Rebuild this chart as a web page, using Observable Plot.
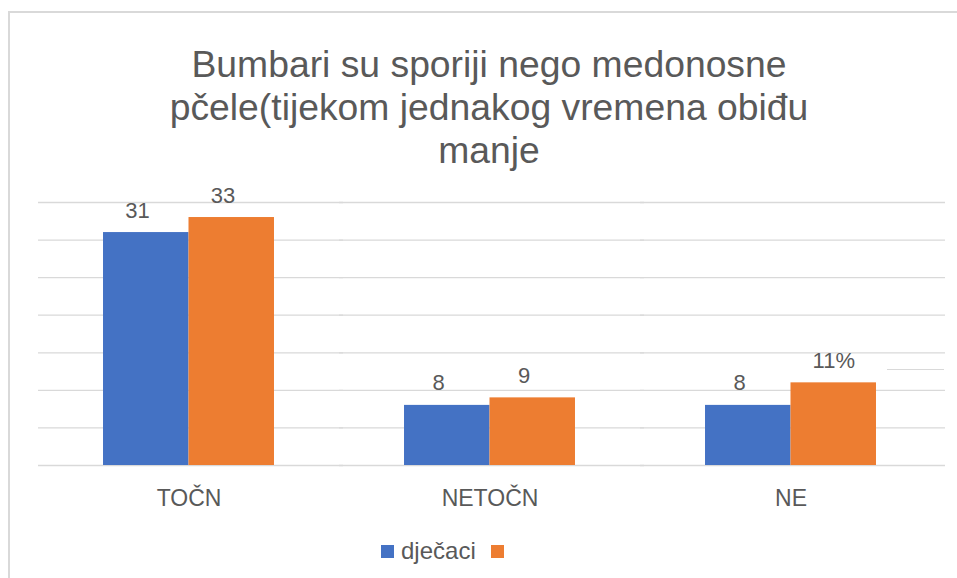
<!DOCTYPE html>
<html><head><meta charset="utf-8">
<script src="https://cdn.jsdelivr.net/npm/d3@7"></script>
<script src="https://cdn.jsdelivr.net/npm/@observablehq/plot@0.6"></script>
<style>
html,body{margin:0;padding:0;background:#fff;}
body{width:957px;height:578px;overflow:hidden;position:relative;font-family:"Liberation Sans",Arial,sans-serif;}
#frame{position:absolute;left:8px;top:11px;width:1000px;height:600px;border-left:2px solid #d9d9d9;border-top:2px solid #d9d9d9;}
#title{position:absolute;left:10px;width:958px;top:43px;text-align:center;font-size:37.3px;line-height:43px;color:#595959;}
#chart{position:absolute;left:0;top:180px;}
#legend{position:absolute;left:381px;top:537px;display:flex;align-items:center;font-size:24px;color:#595959;}
.sw{width:13px;height:13px;display:inline-block;}
#stray{position:absolute;left:887px;top:369px;width:57px;height:0;border-top:1.5px solid #d9d9d9;}
</style></head><body>
<div id="frame"></div>
<div id="title"></div>
<div id="chart"></div>
<div id="legend"></div>
<div id="stray"></div>
<script>
const titleLines = ["Bumbari su sporiji nego medonosne", "pčele(tijekom jednakog vremena obiđu", "manje"];
const categories = ["TOČN", "NETOČN", "NE"];
const seriesNames = ["dječaci", ""];
const seriesColors = ["#4472C4", "#ED7D31"];
const valuesA = [31, 8, 8];
const valuesB = [33, 9, 11];
const labelsA = ["31", "8", "8"];
const labelsB = ["33", "9", "11%"];
const yTicks = [0, 5, 10, 15, 20, 25, 30, 35];

document.getElementById("title").innerHTML = titleLines.map(t => `<div>${t}</div>`).join("");

const seriesKeys = seriesNames.map((_, i) => "s" + i);
const rows = categories.flatMap((c, i) => [
  {cat: c, s: seriesKeys[0], v: valuesA[i], label: labelsA[i]},
  {cat: c, s: seriesKeys[1], v: valuesB[i], label: labelsB[i]}
]);

const W = 957, mL = 38, mR = 16;
const padIn = 0.432, padOut = 0.216;
const step = (W - mL - mR) / (categories.length - padIn + 2 * padOut);
const gapHalf = -(padIn * step) / 2;
const labelFont = 22;
const textOpts = {fx: "cat", x: "s", y: "v", text: "label", lineAnchor: "bottom", fill: "#595959", fontSize: labelFont};

const chart = Plot.plot({
  width: W, height: 320,
  marginLeft: mL, marginRight: mR, marginTop: 22, marginBottom: 35,
  style: {fontFamily: "'Liberation Sans', Arial, sans-serif", fontSize: "23px", color: "#595959", background: "transparent", overflow: "visible"},
  fx: {domain: categories, paddingInner: padIn, paddingOuter: padOut, round: false, axis: "bottom", tickSize: 0, tickPadding: 24, label: null},
  x: {domain: seriesKeys, padding: 0, round: false, axis: null},
  y: {domain: [0, 35], axis: null},
  color: {domain: seriesKeys, range: seriesColors},
  marks: [
    Plot.ruleY(yTicks, {stroke: "#d9d9d9", strokeWidth: 1.3, insetLeft: gapHalf, insetRight: gapHalf - 4}),
    Plot.barY(rows, {fx: "cat", x: "s", y: "v", fill: "s"}),
    // plain number labels sit as if a hidden "%" followed them
    Plot.text(rows.filter(d => !d.label.endsWith("%")), {...textOpts, dy: -15, dx: -0.445 * labelFont * 0.889 * 2 / 2}),
    Plot.text(rows.filter(d => d.label.endsWith("%")), {...textOpts, dy: -15})
  ]
});
document.getElementById("chart").appendChild(chart);

const legend = document.getElementById("legend");
seriesNames.forEach((n, i) => {
  const sw = document.createElement("span");
  sw.className = "sw";
  sw.style.background = seriesColors[i];
  sw.style.marginRight = "7px";
  legend.appendChild(sw);
  const t = document.createElement("span");
  t.textContent = n;
  t.style.marginRight = n ? "15px" : "0";
  legend.appendChild(t);
});
</script>
</body></html>
